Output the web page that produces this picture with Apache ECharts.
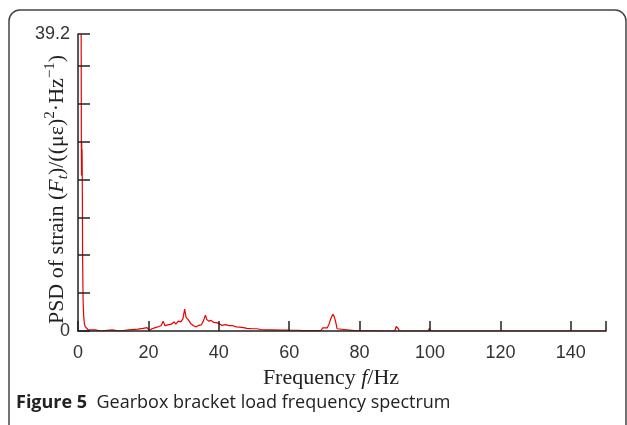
<!DOCTYPE html>
<html>
<head>
<meta charset="utf-8">
<script src="https://cdn.jsdelivr.net/npm/echarts@6/dist/echarts.min.js"></script>
<style>
html,body{margin:0;padding:0;background:#fff;}
#chart{width:627px;height:425px;}
</style>
</head>
<body>
<div id="chart"></div>
<script>
// Frequency (Hz) and PSD values
var freq = [0.9, 0.95, 1.0, 1.05, 1.1, 1.15, 1.2, 1.25, 1.3, 1.45, 1.6, 1.8, 2.0, 2.3, 2.8, 3.2, 4, 5, 5.5, 6.3, 6.5, 9.7, 10, 11.8, 12, 14.5, 15, 17, 18.5, 19.6, 20.3, 21, 22, 23, 23.6, 24.2, 24.7, 25.5, 26.5, 27.3, 27.8, 28.5, 29.2, 29.8, 30.3, 30.7, 31.3, 32, 32.8, 33.6, 34.3, 35.0, 35.6, 36.2, 36.6, 37.2, 37.8, 38.5, 39.3, 40.0, 40.8, 42, 43, 44, 45, 46, 47, 48, 48.5, 49.5, 50.8, 52, 53, 55, 58, 59.5, 60, 60.5, 61.5, 62, 62.5, 64, 69, 69.5, 70.8, 71.3, 71.8, 72.4, 72.8, 73.2, 73.6, 74, 78.5, 79, 86.9, 87.1, 87.3, 90, 90.4, 90.7, 91, 91.3, 96.3, 96.5, 96.7, 99.5, 99.8, 100.1, 100.3, 120.8, 121, 121.2, 150];
var psd  = [39.2, 24.5, 20.6, 24.8, 20.5, 24.0, 21.0, 17, 10, 4.0, 2.1, 1.0, 0.6, 0.4, 0.2, 0.15, 0.15, 0.15, 0, 0, 0.15, 0.15, 0, 0, 0.15, 0.15, 0.25, 0.25, 0.35, 0.45, 0.05, 0.3, 0.45, 0.6, 0.7, 1.3, 0.7, 0.8, 0.9, 1.2, 0.9, 1.3, 1.2, 1.6, 2.9, 1.8, 1.5, 1.0, 0.7, 0.55, 0.75, 0.8, 1.3, 2.1, 1.5, 1.3, 1.4, 1.15, 1.1, 1.0, 0.75, 0.85, 0.7, 0.7, 0.55, 0.5, 0.45, 0.35, 0.22, 0.3, 0.3, 0.2, 0.15, 0.15, 0.12, 0.12, 0.3, 0.1, 0.1, 0.3, 0.1, 0.05, 0.05, 0.4, 0.4, 0.9, 1.6, 2.2, 1.9, 1.2, 0.3, 0.05, 0.05, 0, 0, 0.15, 0, 0, 0.6, 0.8, 0.3, 0, 0, 0.15, 0, 0, 0.35, 0.35, 0, 0, 0.15, 0, 0];
var xTicks = [0, 20, 40, 60, 80, 100, 120, 140];
var yLabels = ['0', '39.2'];

var points = freq.map(function (f, i) { return [f, psd[i]]; });

var chart = echarts.init(document.getElementById('chart'), null, {renderer: 'canvas'});
var serif = '"Liberation Serif", "Times New Roman", serif';
var sans = '"Liberation Sans", Arial, sans-serif';
chart.setOption({
  animation: false,
  backgroundColor: '#ffffff',
  grid: {left: 78, right: 21, top: 34, bottom: 94, containLabel: false},
  xAxis: {
    type: 'value', min: 0, max: 150, interval: 20, z: 5,
    axisLine: {show: true, onZero: false, lineStyle: {color: '#222', width: 1.5}},
    axisTick: {show: true, inside: true, length: 10, lineStyle: {color: '#222', width: 1.5}},
    splitLine: {show: false},
    axisLabel: {
      margin: 13, color: '#333', fontSize: 18, fontFamily: sans,
      formatter: function (v) { return xTicks.indexOf(v) >= 0 ? String(v) : ''; }
    },
    name: '{n|Frequency }{i|f}{n|/Hz}',
    nameLocation: 'middle', nameGap: 36, nameMoveOverlap: false,
    nameTextStyle: {
      padding: [0, 22, 0, 0],
      rich: {
        n: {fontFamily: serif, fontSize: 22, color: '#222'},
        i: {fontFamily: serif, fontSize: 22, fontStyle: 'italic', color: '#222'}
      }
    }
  },
  yAxis: {
    type: 'value', min: 0, max: 39.2, interval: 5, z: 5,
    axisLine: {show: true, onZero: false, lineStyle: {color: '#222', width: 1.5}},
    axisTick: {show: true, inside: true, length: 12, lineStyle: {color: '#222', width: 1.5}},
    splitLine: {show: false},
    axisLabel: {
      margin: 8, color: '#333', fontSize: 18, fontFamily: sans, padding: [6, 0, 0, 0],
      formatter: function (v) {
        if (v === 0) return yLabels[0];
        if (Math.abs(v - 39.2) < 1e-6) return yLabels[1];
        return '';
      }
    },
    name: '{n|PSD of strain (}{i|F}{sub|t}{n|)/((με)}{sup|2}{n|·Hz}{sup|−1}{n|)}',
    nameLocation: 'middle', nameGap: 7, nameRotate: 90, nameMoveOverlap: false,
    nameTextStyle: {
      padding: [0, 14, 0, 0],
      rich: {
        n: {fontFamily: serif, fontSize: 22, color: '#222', lineHeight: 28, verticalAlign: 'middle'},
        i: {fontFamily: serif, fontSize: 22, fontStyle: 'italic', color: '#222', lineHeight: 28, verticalAlign: 'middle'},
        sub: {fontFamily: serif, fontSize: 15, fontStyle: 'italic', color: '#222', lineHeight: 14, verticalAlign: 'bottom'},
        sup: {fontFamily: serif, fontSize: 15, color: '#222', lineHeight: 14, verticalAlign: 'top'}
      }
    }
  },
  series: [{
    type: 'line',
    data: points,
    showSymbol: false,
    symbol: 'none',
    z: 2,
    lineStyle: {color: '#e60000', width: 1.2},
    itemStyle: {color: '#e60000'}
  }],
  graphic: [
    {
      type: 'rect', silent: true, z: 0,
      shape: {x: 9, y: 10, width: 617, height: 440, r: 11},
      style: {fill: 'none', stroke: '#444', lineWidth: 1.5}
    },
    {
      type: 'text', left: 16, top: 394, z: 10,
      style: {
        text: '{b|Figure 5}{r|  Gearbox bracket load frequency spectrum}',
        rich: {
          b: {fontFamily: '"Open Sans", "Noto Sans", sans-serif', fontSize: 18, fontWeight: 'bold', fill: '#222'},
          r: {fontFamily: '"Open Sans", "Noto Sans", sans-serif', fontSize: 18, fill: '#222'}
        }
      }
    }
  ]
});
</script>
</body>
</html>
